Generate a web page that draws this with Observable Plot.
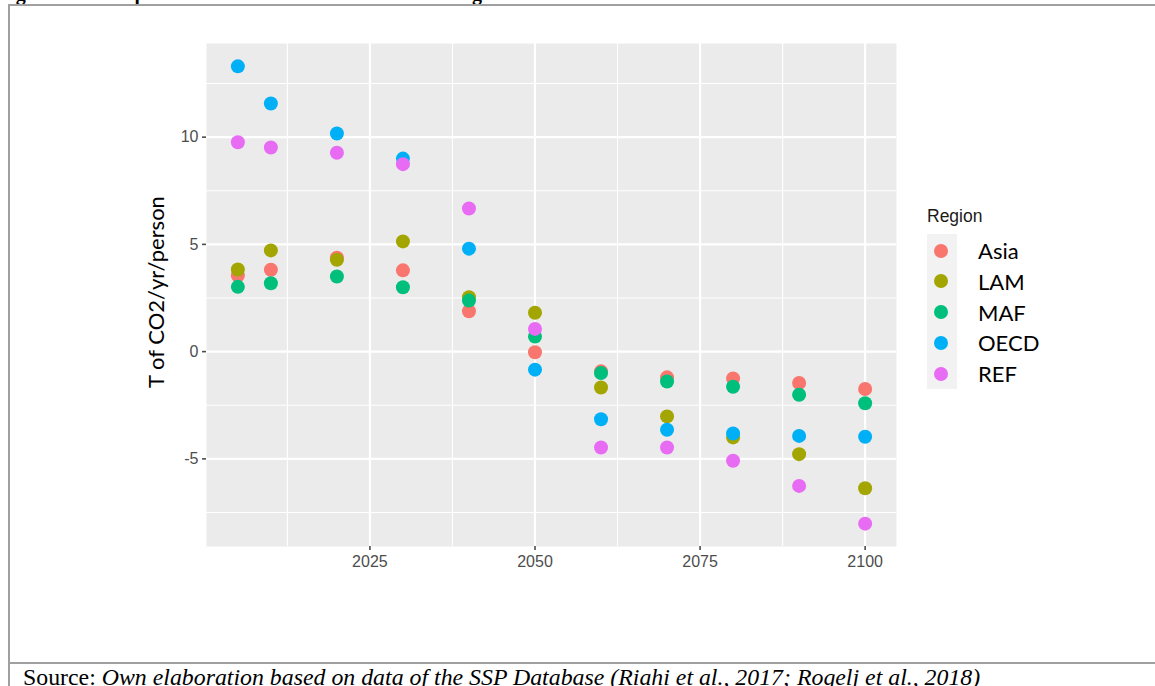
<!DOCTYPE html>
<html>
<head>
<meta charset="utf-8">
<script src="https://cdn.jsdelivr.net/npm/d3@7"></script>
<script src="https://cdn.jsdelivr.net/npm/@observablehq/plot@0.6"></script>
<style>
  html, body { margin: 0; padding: 0; background: #fff; }
  body { width: 1155px; height: 686px; position: relative; overflow: hidden; }
  #chart { position: absolute; left: 0; top: 0; }
  #chart svg text { font-size: 16px !important; }
  #page { position: absolute; left: 0; top: 0; pointer-events: none; }
  .ytitle {
    position: absolute; left: 155px; top: 292px;
    transform: translate(-50%, -50%) rotate(-90deg);
    white-space: nowrap; font-family: Lato, "Open Sans", sans-serif; font-size: 22px; color: #000;
  }
  .legend-title {
    position: absolute; left: 927px; top: 206px;
    font-family: "Liberation Sans", Arial, sans-serif; font-size: 17.5px; color: #1a1a1a;
  }
  .legend-keys { position: absolute; left: 927px; top: 234px; width: 30px; height: 155px; background: #F2F2F2; }
  .legend-item { position: absolute; left: 927px; height: 30px; display: flex; align-items: center; }
  .legend-item .sw { width: 14px; height: 14px; border-radius: 50%; margin-left: 7px; }
  .legend-item .lb { margin-left: 30px; font-family: Lato, "Open Sans", sans-serif; font-size: 22px; color: #000; }
</style>
</head>
<body>
<div id="chart"></div>
<svg id="page" width="1155" height="686"></svg>
<script>
// Per-capita CO2 emissions (t CO2 / yr / person) by SSP macro-region
const years = [2005, 2010, 2020, 2030, 2040, 2050, 2060, 2070, 2080, 2090, 2100];
const regions = ["Asia", "LAM", "MAF", "OECD", "REF"];
const regionColors = ["#F8766D", "#A3A500", "#00BF7D", "#00B0F6", "#E76BF3"];

const asia = [3.55, 3.82, 4.38, 3.79, 1.88, -0.03, -0.92, -1.20, -1.25, -1.46, -1.74];
const lam  = [3.83, 4.72, 4.28, 5.14, 2.54, 1.81, -1.67, -3.02, -4.00, -4.78, -6.37];
const maf  = [3.02, 3.19, 3.50, 3.00, 2.38, 0.70, -1.00, -1.39, -1.64, -2.01, -2.41];
const oecd = [13.30, 11.57, 10.17, 9.00, 4.80, -0.84, -3.15, -3.64, -3.82, -3.93, -3.97];
const ref  = [9.76, 9.52, 9.27, 8.74, 6.67, 1.06, -4.47, -4.47, -5.09, -6.26, -8.02];

const xBreaks = [2025, 2050, 2075, 2100];
const yBreaks = [-5, 0, 5, 10];

const yAxisTitle = "T of CO2/yr/person";
const legendTitle = "Region";
const figureTitle = "Figure 8: Per capita CO2 emissions of the SSP macro regions";
const sourceLabel = "Source: ";
const sourceText = "Own elaboration based on data of the SSP Database (Riahi et al., 2017; Rogelj et al., 2018)";

// long table, rows ordered region by region (later regions paint on top)
const series = [asia, lam, maf, oecd, ref];
const table = [];
regions.forEach((r, i) => years.forEach((y, j) => table.push({region: r, year: y, value: series[i][j]})));

// 5% expansion on both continuous scales
const expand = ([a, b]) => [a - (b - a) * 0.05, b + (b - a) * 0.05];
const xDom = expand(d3.extent(years));
const yDom = expand(d3.extent(table, d => d.value));

// minor breaks sit halfway between major breaks
const xMinor = [];
for (let i = 0; i < xBreaks.length - 1; i++) xMinor.push((xBreaks[i] + xBreaks[i + 1]) / 2);
xMinor.unshift(xBreaks[0] - (xBreaks[1] - xBreaks[0]) / 2);
const yMinor = [];
const yStep = yBreaks[1] - yBreaks[0];
for (let v = yBreaks[0] - yStep / 2; v <= yBreaks[yBreaks.length - 1] + yStep / 2; v += yStep) yMinor.push(v);
const inside = (dom) => (v) => v > dom[0] && v < dom[1];

const W = 900, H = 600;
const chart = Plot.plot({
  width: W, height: H,
  marginLeft: 206, marginRight: W - 896, marginTop: 43, marginBottom: H - 546,
  x: {domain: xDom},
  y: {domain: yDom},
  color: {domain: regions, range: regionColors},
  style: {background: "transparent", fontFamily: "'Liberation Sans', Arial, sans-serif", fontSize: "16px", overflow: "visible"},
  marks: [
    Plot.frame({fill: "#EBEBEB", stroke: "none"}),
    Plot.gridX(xMinor.filter(inside(xDom)), {stroke: "#fff", strokeOpacity: 1, strokeWidth: 1.1}),
    Plot.gridY(yMinor.filter(inside(yDom)), {stroke: "#fff", strokeOpacity: 1, strokeWidth: 1.1}),
    Plot.gridX(xBreaks, {stroke: "#fff", strokeOpacity: 1, strokeWidth: 2.2}),
    Plot.gridY(yBreaks, {stroke: "#fff", strokeOpacity: 1, strokeWidth: 2.2}),
    Plot.axisX(xBreaks, {tickSize: 4, tickPadding: 5, fontSize: 16, color: "#4D4D4D", strokeWidth: 1.6,
                         label: null, tickFormat: d => String(d)}),
    Plot.axisY(yBreaks, {tickSize: 4, tickPadding: 4, fontSize: 16, color: "#4D4D4D", strokeWidth: 1.6,
                         label: null, tickFormat: d => String(d)}),
    Plot.dot(table, {x: "year", y: "value", fill: "region", r: 7})
  ]
});
document.getElementById("chart").appendChild(chart);
d3.select(chart).selectAll("text").style("font-size", "16px");

// axis title
const yt = document.createElement("div");
yt.className = "ytitle";
yt.textContent = yAxisTitle;
document.body.appendChild(yt);

// legend
const lt = document.createElement("div");
lt.className = "legend-title";
lt.textContent = legendTitle;
document.body.appendChild(lt);
const keys = document.createElement("div");
keys.className = "legend-keys";
document.body.appendChild(keys);
regions.forEach((r, i) => {
  const item = document.createElement("div");
  item.className = "legend-item";
  item.style.top = (235.5 + i * 30.8) + "px";
  const sw = document.createElement("div");
  sw.className = "sw";
  sw.style.background = regionColors[i];
  const lb = document.createElement("div");
  lb.className = "lb";
  lb.textContent = r;
  item.appendChild(sw);
  item.appendChild(lb);
  document.body.appendChild(item);
});

// document frame, figure title and source line
const page = d3.select("#page");
page.append("text").attr("x", -2).attr("y", -0.5)
  .attr("font-family", "'Liberation Serif', serif").attr("font-weight", "bold").attr("font-size", 20)
  .text(figureTitle);
page.append("rect").attr("x", 8).attr("y", 4).attr("width", 1147).attr("height", 2).attr("fill", "#A0A0A0");
page.append("rect").attr("x", 8).attr("y", 4).attr("width", 2).attr("height", 682).attr("fill", "#A0A0A0");
page.append("rect").attr("x", 8).attr("y", 662).attr("width", 1147).attr("height", 2).attr("fill", "#A0A0A0");
const src = page.append("text").attr("x", 23).attr("y", 685)
  .attr("font-family", "'Liberation Serif', serif").attr("font-size", 22).attr("fill", "#000");
src.append("tspan").text(sourceLabel);
src.append("tspan").attr("font-style", "italic").text(sourceText);
const w = src.node().getComputedTextLength();
src.attr("font-size", 22 * 958 / w);
</script>
</body>
</html>
